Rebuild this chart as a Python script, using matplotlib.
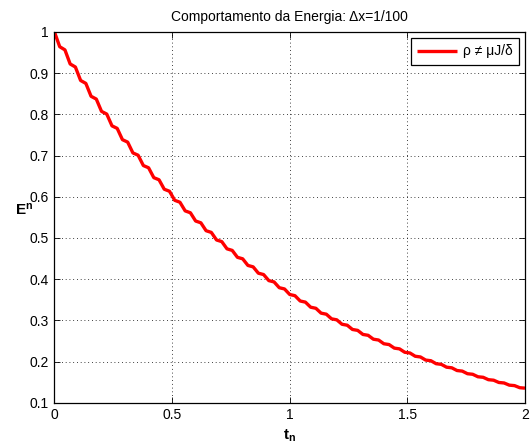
import numpy as np
import matplotlib
matplotlib.use('Agg')
import matplotlib.pyplot as plt

plt.rcParams['font.family'] = ['Liberation Sans', 'DejaVu Sans']
plt.rcParams['mathtext.fontset'] = 'custom'
plt.rcParams['mathtext.rm'] = 'Liberation Sans'
plt.rcParams['mathtext.bf'] = 'Liberation Sans:bold'

energy = [
    1.00000, 0.98198, 0.96428, 0.96040, 0.95653, 0.93929, 0.92237, 0.91865, 0.91494,
    0.89846, 0.88227, 0.87871, 0.87517, 0.85940, 0.84391, 0.84051, 0.83713, 0.82204,
    0.80723, 0.80397, 0.80074, 0.78631, 0.77214, 0.76903, 0.76593, 0.75213, 0.73857,
    0.73560, 0.73263, 0.71943, 0.70646, 0.70361, 0.70078, 0.68815, 0.67575, 0.67303,
    0.67032, 0.65824, 0.64638, 0.64377, 0.64118, 0.62963, 0.61828, 0.61579, 0.61331,
    0.60225, 0.59140, 0.58902, 0.58665, 0.57607, 0.56569, 0.56341, 0.56114, 0.55103,
    0.54110, 0.53892, 0.53675, 0.52708, 0.51757, 0.51549, 0.51342, 0.50416, 0.49508,
    0.49309, 0.49110, 0.48225, 0.47356, 0.47165, 0.46975, 0.46129, 0.45297, 0.45115,
    0.44933, 0.44123, 0.43328, 0.43154, 0.42980, 0.42205, 0.41444, 0.41278, 0.41111,
    0.40370, 0.39643, 0.39483, 0.39324, 0.38616, 0.37920, 0.37767, 0.37615, 0.36937,
    0.36271, 0.36125, 0.35979, 0.35331, 0.34695, 0.34555, 0.34415, 0.33795, 0.33186,
    0.33052, 0.32919, 0.32327, 0.31744, 0.31616, 0.31488, 0.30921, 0.30363, 0.30241,
    0.30119, 0.29577, 0.29043, 0.28927, 0.28810, 0.28291, 0.27781, 0.27670, 0.27558,
    0.27061, 0.26573, 0.26466, 0.26360, 0.25884, 0.25418, 0.25316, 0.25214, 0.24759,
    0.24313, 0.24215, 0.24118, 0.23683, 0.23256, 0.23163, 0.23069, 0.22653, 0.22245,
    0.22156, 0.22066, 0.21669, 0.21279, 0.21192, 0.21107, 0.20727, 0.20353, 0.20271,
    0.20190, 0.19826, 0.19469, 0.19390, 0.19312, 0.18964, 0.18623, 0.18547, 0.18472,
    0.18139, 0.17813, 0.17741, 0.17670, 0.17351, 0.17038, 0.16970, 0.16901, 0.16597,
    0.16298, 0.16232, 0.16167, 0.15875, 0.15589, 0.15527, 0.15464, 0.15185, 0.14911,
    0.14852, 0.14792, 0.14525, 0.14264, 0.14206, 0.14149, 0.13893, 0.13644, 0.13588,
    0.13534,
]
t_n = np.linspace(0, 2, len(energy))

xticks = [0, 0.5, 1, 1.5, 2]
xticklabels = ['0', '0.5', '1', '1.5', '2']
yticks = [0.1, 0.2, 0.3, 0.4, 0.5, 0.6, 0.7, 0.8, 0.9, 1.0]
yticklabels = ['0.1', '0.2', '0.3', '0.4', '0.5', '0.6', '0.7', '0.8', '0.9', '1']
series_label = 'ρ ≠ μJ/δ'
title = 'Comportamento da Energia: Δx=1/100'

fig = plt.figure(figsize=(5.32, 4.48), dpi=100)
ax = fig.add_axes([0.1024, 0.1011, 0.8844, 0.8275])

ax.plot(t_n, energy, color='#ff0000', lw=2.4, label=series_label,
        solid_joinstyle='round', solid_capstyle='butt')

ax.set_xlim(0, 2)
ax.set_ylim(0.1, 1)
ax.set_xticks(xticks)
ax.set_xticklabels(xticklabels)
ax.set_yticks(yticks)
ax.set_yticklabels(yticklabels)
ax.tick_params(direction='in', top=True, right=True, length=4, width=0.6,
               labelsize=10, pad=4, colors='black')
for s in ax.spines.values():
    s.set_linewidth(0.9)
    s.set_color('black')

ax.grid(True, color='black', linestyle=(0, (1, 3.5)), linewidth=0.6)

ax.set_title(title, fontsize=10, pad=8)
ax.set_xlabel(r'$\mathbf{t_n}$', fontsize=11, labelpad=4)
ylab = ax.set_ylabel(r'$\mathbf{E^n}$', fontsize=11, rotation=0, labelpad=0)
ylab.set_verticalalignment('center')
ax.yaxis.set_label_coords(-0.065, 0.52)

leg = ax.legend(loc='upper right', fontsize=10, handlelength=2.9,
                handletextpad=0.4, borderpad=0.45, borderaxespad=0.45,
                fancybox=False, framealpha=1, edgecolor='black')
leg.get_frame().set_linewidth(0.9)

fig.savefig('out.png', dpi=100)
